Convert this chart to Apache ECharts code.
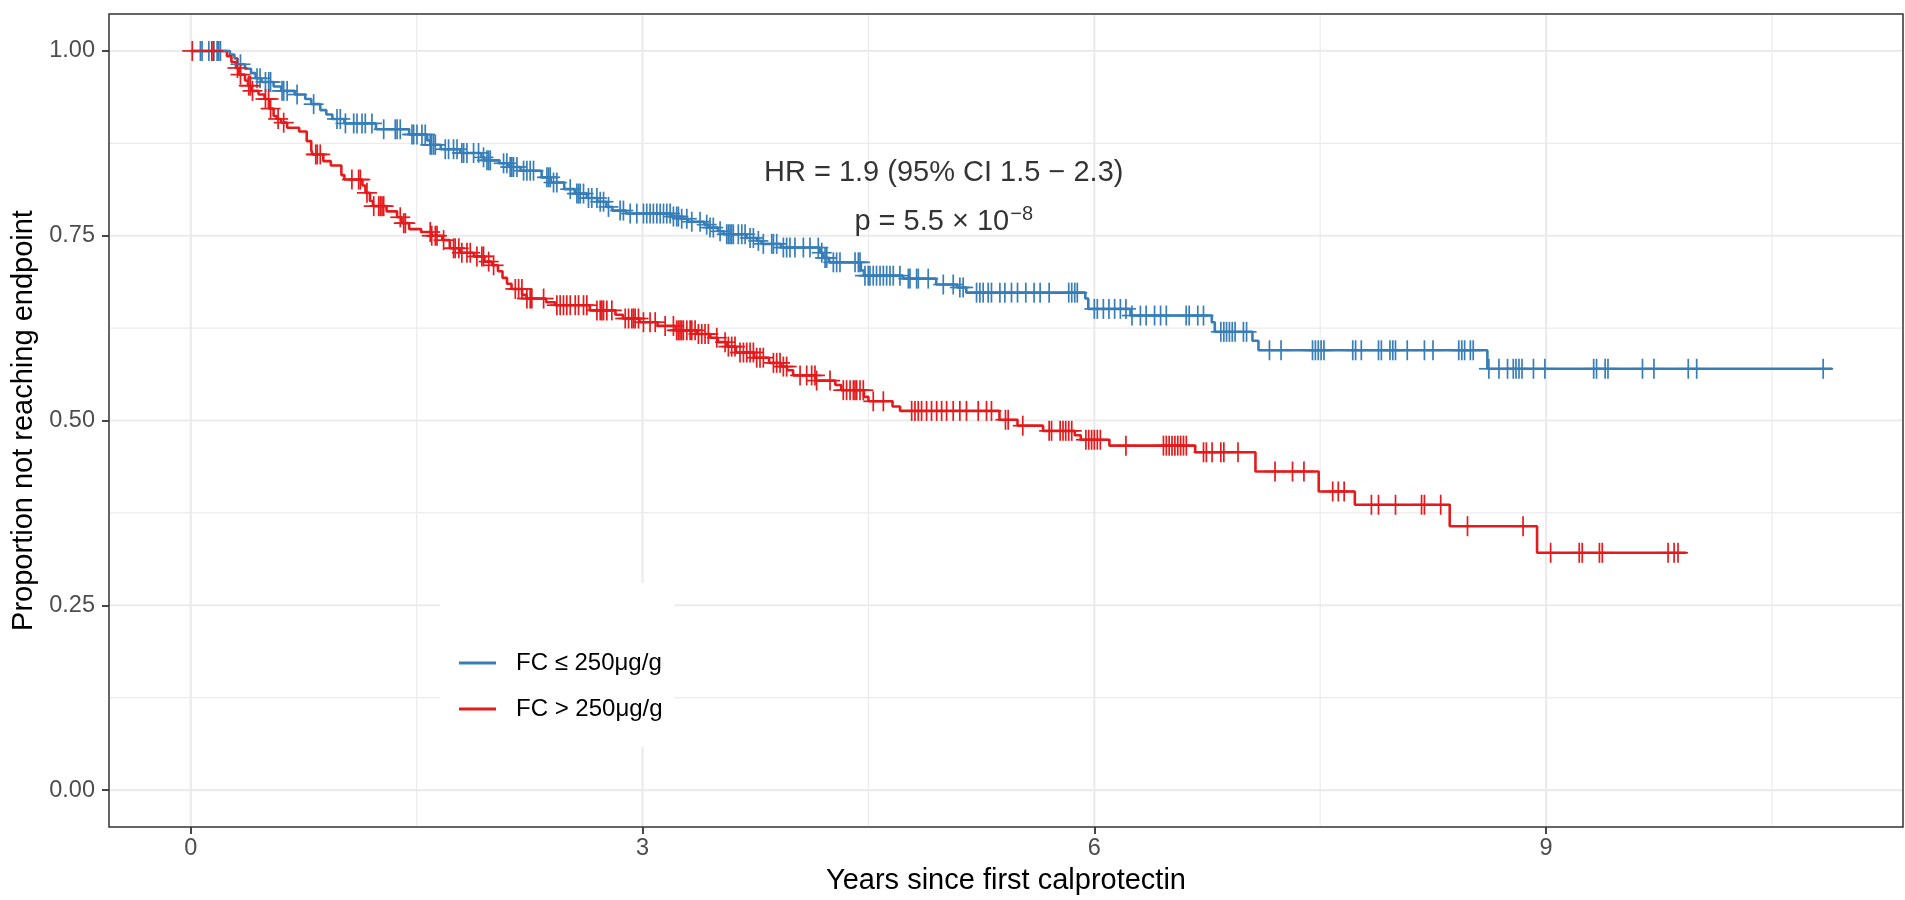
<!DOCTYPE html>
<html><head><meta charset="utf-8">
<script src="https://cdn.jsdelivr.net/npm/echarts@6/dist/echarts.min.js"></script>
<style>html,body{margin:0;padding:0;background:#fff}#chart{width:1905px;height:900px}</style>
</head><body><div id="chart"></div>
<script>
const seriesNames = ['FC \u2264 250\u03bcg/g', 'FC > 250\u03bcg/g'];
const seriesColors = ['#377EB8', '#E41A1C'];

const blueTimes = [0, 0.26, 0.29, 0.31, 0.36, 0.40, 0.43, 0.47, 0.55, 0.60, 0.69, 0.76, 0.80, 0.86, 0.90, 0.94, 1.02, 1.23, 1.45, 1.57, 1.59, 1.66, 1.79, 1.93, 1.95, 2.05, 2.11, 2.19, 2.33, 2.39, 2.48, 2.55, 2.63, 2.70, 2.76, 2.80, 2.89, 3.19, 3.25, 3.30, 3.41, 3.44, 3.50, 3.54, 3.69, 3.76, 3.79, 3.92, 4.18, 4.20, 4.24, 4.45, 4.47, 4.73, 4.95, 5.09, 5.15, 5.94, 5.96, 6.24, 6.78, 6.80, 7.05, 7.09, 8.61, 10.9];
const blueSurv = [1, 0.995, 0.990, 0.982, 0.976, 0.970, 0.963, 0.958, 0.952, 0.946, 0.941, 0.935, 0.928, 0.920, 0.914, 0.908, 0.902, 0.894, 0.887, 0.879, 0.873, 0.867, 0.862, 0.856, 0.852, 0.848, 0.843, 0.838, 0.829, 0.822, 0.813, 0.807, 0.801, 0.796, 0.789, 0.784, 0.780, 0.776, 0.773, 0.769, 0.765, 0.761, 0.756, 0.752, 0.747, 0.743, 0.739, 0.734, 0.727, 0.720, 0.714, 0.703, 0.696, 0.692, 0.684, 0.680, 0.673, 0.665, 0.651, 0.642, 0.633, 0.620, 0.608, 0.595, 0.570, 0.570];
const blueCensor = [0.064, 0.075, 0.12, 0.153, 0.175, 0.186, 0.197, 0.33, 0.44, 0.46, 0.496, 0.518, 0.53, 0.606, 0.617, 0.64, 0.706, 0.816, 0.971, 0.993, 1.027, 1.082, 1.104, 1.137, 1.159, 1.203, 1.281, 1.358, 1.37, 1.391, 1.469, 1.48, 1.502, 1.535, 1.557, 1.59, 1.6, 1.613, 1.624, 1.69, 1.712, 1.745, 1.768, 1.8, 1.812, 1.834, 1.878, 1.911, 1.944, 1.967, 1.978, 1.989, 2.077, 2.099, 2.121, 2.132, 2.143, 2.166, 2.21, 2.232, 2.254, 2.276, 2.365, 2.376, 2.387, 2.409, 2.431, 2.52, 2.564, 2.575, 2.586, 2.608, 2.641, 2.663, 2.697, 2.719, 2.741, 2.774, 2.851, 2.873, 2.918, 2.962, 3.006, 3.028, 3.05, 3.072, 3.095, 3.117, 3.139, 3.161, 3.183, 3.205, 3.227, 3.238, 3.26, 3.294, 3.327, 3.382, 3.426, 3.448, 3.47, 3.515, 3.559, 3.57, 3.581, 3.592, 3.603, 3.636, 3.659, 3.681, 3.714, 3.736, 3.769, 3.802, 3.858, 3.869, 3.891, 3.935, 3.957, 3.979, 4.012, 4.068, 4.112, 4.167, 4.19, 4.212, 4.223, 4.267, 4.289, 4.311, 4.411, 4.433, 4.444, 4.477, 4.499, 4.51, 4.532, 4.554, 4.577, 4.599, 4.621, 4.643, 4.665, 4.709, 4.765, 4.776, 4.82, 4.831, 4.897, 4.997, 5.063, 5.107, 5.129, 5.218, 5.24, 5.262, 5.295, 5.317, 5.373, 5.406, 5.45, 5.49, 5.545, 5.6, 5.64, 5.7, 5.83, 5.85, 5.87, 5.887, 6.0, 6.02, 6.06, 6.097, 6.135, 6.173, 6.21, 6.25, 6.306, 6.344, 6.4, 6.44, 6.478, 6.61, 6.63, 6.687, 6.725, 6.84, 6.86, 6.878, 6.897, 6.916, 6.935, 6.99, 7.011, 7.163, 7.24, 7.449, 7.468, 7.487, 7.506, 7.525, 7.716, 7.735, 7.773, 7.887, 7.906, 7.963, 7.982, 8.0, 8.078, 8.192, 8.249, 8.42, 8.44, 8.459, 8.497, 8.516, 8.62, 8.687, 8.744, 8.782, 8.8, 8.82, 8.84, 8.916, 8.992, 9.316, 9.335, 9.392, 9.411, 9.64, 9.716, 9.944, 10.0, 10.84];

const redTimes = [0, 0.24, 0.27, 0.30, 0.32, 0.36, 0.38, 0.40, 0.45, 0.49, 0.52, 0.55, 0.57, 0.60, 0.64, 0.72, 0.77, 0.80, 0.81, 0.88, 0.93, 1.00, 1.02, 1.14, 1.16, 1.19, 1.21, 1.30, 1.37, 1.40, 1.45, 1.53, 1.60, 1.67, 1.72, 1.79, 1.88, 1.95, 2.00, 2.04, 2.07, 2.10, 2.13, 2.20, 2.23, 2.36, 2.42, 2.65, 2.82, 2.87, 2.98, 3.10, 3.22, 3.36, 3.45, 3.50, 3.56, 3.62, 3.74, 3.84, 3.92, 3.96, 4.00, 4.15, 4.28, 4.32, 4.47, 4.50, 4.66, 4.71, 5.37, 5.49, 5.66, 5.87, 5.91, 6.10, 6.67, 7.07, 7.49, 7.73, 8.36, 8.94, 9.93];
const redSurv = [1, 0.993, 0.985, 0.977, 0.968, 0.960, 0.953, 0.946, 0.941, 0.935, 0.922, 0.912, 0.908, 0.903, 0.896, 0.891, 0.878, 0.866, 0.860, 0.851, 0.845, 0.832, 0.826, 0.818, 0.808, 0.797, 0.790, 0.783, 0.775, 0.767, 0.759, 0.755, 0.750, 0.744, 0.733, 0.727, 0.722, 0.715, 0.710, 0.702, 0.693, 0.685, 0.678, 0.670, 0.665, 0.660, 0.656, 0.649, 0.643, 0.638, 0.633, 0.628, 0.622, 0.617, 0.612, 0.606, 0.600, 0.592, 0.585, 0.578, 0.573, 0.568, 0.561, 0.554, 0.548, 0.541, 0.532, 0.526, 0.519, 0.513, 0.501, 0.493, 0.486, 0.480, 0.474, 0.466, 0.457, 0.431, 0.404, 0.386, 0.357, 0.321, 0.321];
const redCensor = [0.01, 0.14, 0.15, 0.31, 0.33, 0.385, 0.396, 0.41, 0.496, 0.517, 0.53, 0.58, 0.617, 0.83, 0.84, 0.86, 1.07, 1.115, 1.126, 1.17, 1.215, 1.248, 1.259, 1.27, 1.281, 1.391, 1.414, 1.425, 1.59, 1.6, 1.624, 1.635, 1.679, 1.745, 1.756, 1.78, 1.8, 1.834, 1.856, 1.9, 1.933, 1.944, 1.978, 2.011, 2.155, 2.177, 2.199, 2.232, 2.254, 2.265, 2.343, 2.431, 2.453, 2.475, 2.497, 2.52, 2.553, 2.575, 2.608, 2.63, 2.697, 2.719, 2.73, 2.741, 2.763, 2.796, 2.885, 2.907, 2.929, 2.94, 2.951, 2.973, 3.006, 3.05, 3.084, 3.15, 3.205, 3.227, 3.238, 3.249, 3.26, 3.271, 3.294, 3.316, 3.327, 3.349, 3.371, 3.393, 3.415, 3.437, 3.493, 3.548, 3.57, 3.592, 3.614, 3.647, 3.67, 3.692, 3.714, 3.736, 3.758, 3.78, 3.802, 3.869, 3.891, 3.913, 3.935, 3.957, 4.046, 4.09, 4.123, 4.145, 4.156, 4.245, 4.333, 4.355, 4.378, 4.4, 4.411, 4.422, 4.444, 4.466, 4.532, 4.599, 4.787, 4.809, 4.831, 4.853, 4.886, 4.919, 4.953, 4.986, 5.019, 5.063, 5.107, 5.151, 5.229, 5.284, 5.317, 5.41, 5.428, 5.525, 5.7, 5.716, 5.773, 5.792, 5.81, 5.83, 5.85, 5.944, 5.963, 5.982, 6.0, 6.02, 6.04, 6.21, 6.459, 6.478, 6.497, 6.516, 6.535, 6.554, 6.573, 6.592, 6.611, 6.725, 6.744, 6.782, 6.84, 6.86, 6.954, 7.2, 7.316, 7.392, 7.583, 7.62, 7.659, 7.84, 7.887, 8.0, 8.173, 8.192, 8.3, 8.478, 8.847, 9.03, 9.22, 9.24, 9.354, 9.373, 9.81, 9.85, 9.876];

const xTicks = [0, 3, 6, 9];
const xMinor = [1.5, 4.5, 7.5, 10.5];
const yTicks = [0, 0.25, 0.5, 0.75, 1];
const yMinor = [0.125, 0.375, 0.625, 0.875];
const xRange = [-0.543, 11.37];
const yRange = [-0.05, 1.05];

const annotX = [5, 5];
const annotY = [0.835, 0.769];
const annotText = ['HR = 1.9 (95% CI 1.5 \u2212 2.3)', '{a|p = 5.5 \u00d7 10}{b|\u22128}'];

const FONT = 'Liberation Sans, Arial, Helvetica, sans-serif';

function stepAt(times, surv, t) {
  let s = surv[0];
  for (let i = 0; i < times.length; i++) { if (times[i] <= t) s = surv[i]; else break; }
  return s;
}

function gridSeries(vals, vertical, width) {
  return {
    type: 'custom', silent: true, z: 1,
    data: vals.map(v => vertical ? [v, 0.5] : [5, v]),
    renderItem: function (params, api) {
      const cs = params.coordSys;
      if (vertical) {
        const x = api.coord([api.value(0), api.value(1)])[0];
        return { type: 'line', shape: { x1: x, y1: cs.y + 1, x2: x, y2: cs.y + cs.height - 1 }, style: { stroke: '#EBEBEB', lineWidth: width } };
      }
      const y = api.coord([api.value(0), api.value(1)])[1];
      return { type: 'line', shape: { x1: cs.x + 1, y1: y, x2: cs.x + cs.width - 1, y2: y }, style: { stroke: '#EBEBEB', lineWidth: width } };
    }
  };
}

function censorSeries(censor, times, surv, color) {
  return {
    type: 'custom', silent: true, z: 4,
    data: censor.map(t => [t, stepAt(times, surv, t)]),
    renderItem: function (params, api) {
      const p = api.coord([api.value(0), api.value(1)]);
      const h = 10;
      return { type: 'group', children: [
        { type: 'line', shape: { x1: p[0] - h, y1: p[1], x2: p[0] + h, y2: p[1] }, style: { stroke: color, lineWidth: 1.7 } },
        { type: 'line', shape: { x1: p[0], y1: p[1] - h, x2: p[0], y2: p[1] + h }, style: { stroke: color, lineWidth: 1.7 } }
      ] };
    }
  };
}

function kmSeries(name, times, surv, color) {
  return {
    name: name, type: 'line', step: 'end', showSymbol: false, z: 3,
    data: times.map((t, i) => [t, surv[i]]),
    lineStyle: { color: color, width: 2.6 }, itemStyle: { color: color }
  };
}

const chart = echarts.init(document.getElementById('chart'), null, { renderer: 'canvas' });
chart.setOption({
  animation: false,
  backgroundColor: '#fff',
  grid: { left: 109, top: 14, right: 2, bottom: 73, show: true, borderColor: '#333333', borderWidth: 1.5, backgroundColor: 'transparent' },
  xAxis: {
    type: 'value', min: xRange[0], max: xRange[1],
    name: 'Years since first calprotectin', nameLocation: 'middle', nameGap: 39,
    nameTextStyle: { fontFamily: FONT, fontSize: 29, color: '#000' },
    axisLine: { show: false, onZero: false },
    axisTick: { show: true, customValues: xTicks, length: 7, lineStyle: { color: '#333333', width: 1.8 } },
    axisLabel: { customValues: xTicks, margin: 10, fontFamily: FONT, fontSize: 23.5, color: '#4D4D4D' },
    splitLine: { show: false }
  },
  yAxis: {
    type: 'value', min: yRange[0], max: yRange[1],
    name: 'Proportion not reaching endpoint', nameLocation: 'middle', nameGap: 66,
    nameTextStyle: { fontFamily: FONT, fontSize: 29, color: '#000' },
    axisLine: { show: false, onZero: false },
    axisTick: { show: true, customValues: yTicks, length: 7, lineStyle: { color: '#333333', width: 1.8 } },
    axisLabel: { customValues: yTicks, margin: 14, fontFamily: FONT, fontSize: 23.5, color: '#4D4D4D', formatter: v => v.toFixed(2) },
    splitLine: { show: false }
  },
  legend: {
    data: seriesNames, orient: 'vertical', left: 440, top: 583,
    backgroundColor: '#ffffff', padding: [68, 12, 26, 19],
    icon: 'rect', itemWidth: 37, itemHeight: 3, itemGap: 22,
    textStyle: { fontFamily: FONT, fontSize: 24, color: '#000', padding: [0, 0, 0, 15] },
    selectedMode: false
  },
  series: [
    gridSeries(xMinor, true, 1.2),
    gridSeries(yMinor, false, 1.2),
    gridSeries(xTicks, true, 2.2),
    gridSeries(yTicks, false, 2.2),
    kmSeries(seriesNames[0], blueTimes, blueSurv, seriesColors[0]),
    kmSeries(seriesNames[1], redTimes, redSurv, seriesColors[1]),
    censorSeries(blueCensor, blueTimes, blueSurv, seriesColors[0]),
    censorSeries(redCensor, redTimes, redSurv, seriesColors[1]),
    {
      type: 'scatter', silent: true, symbolSize: 0, z: 5,
      data: annotX.map((x, i) => ({ value: [x, annotY[i]], label: { formatter: annotText[i] } })),
      label: {
        show: true, position: 'inside', fontFamily: FONT, fontSize: 29, color: '#000',
        rich: {
          a: { fontFamily: FONT, fontSize: 29, color: '#000' },
          b: { fontFamily: FONT, fontSize: 20, color: '#000', verticalAlign: 'top', padding: [0, 0, 14, 1] }
        }
      }
    }
  ]
});
</script></body></html>
